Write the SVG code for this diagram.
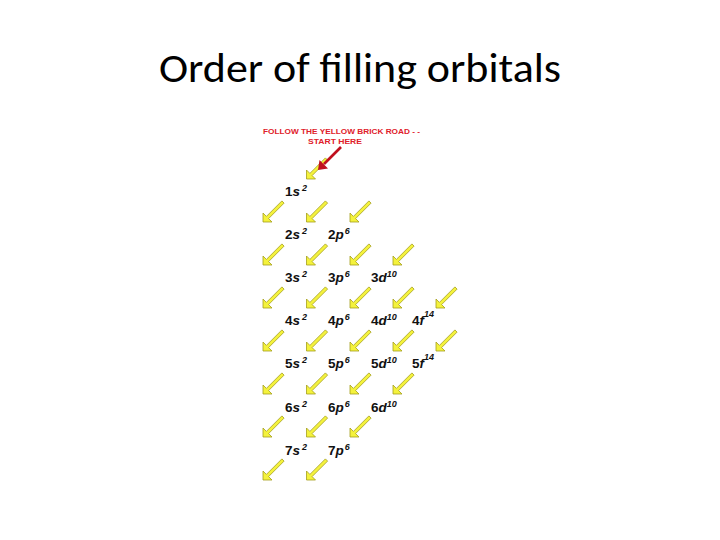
<svg xmlns="http://www.w3.org/2000/svg" xmlns:xlink="http://www.w3.org/1999/xlink" width="720" height="540" viewBox="0 0 720 540">
<style>
.title{font-family:Carlito,"Liberation Sans",sans-serif;font-size:40px;fill:#000}
.lab{font-family:"Liberation Sans",Arial,sans-serif;font-size:13.5px;font-weight:bold;fill:#111}
.it{font-style:italic}
.sup{font-size:9px;font-style:italic}
.red{font-family:"Liberation Sans",Arial,sans-serif;font-size:8px;font-weight:bold;fill:#e0202a}
.ya{fill:#f4f23c;stroke:#a59e1c;stroke-width:0.8;stroke-linejoin:miter}
</style>
<defs>
<polygon id="arr" class="ya" points="0,0 0,-9 3.4,-5.6 18.9,-21.1 21.1,-18.9 5.6,-3.4 9,0"/>
</defs>
<rect width="720" height="540" fill="#fff"/>
<text class="title" x="360" y="82" text-anchor="middle" textLength="402" lengthAdjust="spacingAndGlyphs">Order of filling orbitals</text>
<g id="caption">
<text class="red" x="263" y="134" textLength="157" lengthAdjust="spacingAndGlyphs">FOLLOW THE YELLOW BRICK ROAD  - -</text>
<text class="red" x="308" y="144" textLength="54" lengthAdjust="spacingAndGlyphs">START  HERE</text>
</g>
<g id="connectors">
<use xlink:href="#arr" x="306.5" y="179"/>
<use xlink:href="#arr" x="263" y="222"/><use xlink:href="#arr" x="306.5" y="222"/><use xlink:href="#arr" x="350" y="222"/>
<use xlink:href="#arr" x="263" y="265"/><use xlink:href="#arr" x="306.5" y="265"/><use xlink:href="#arr" x="350" y="265"/><use xlink:href="#arr" x="393" y="265"/>
<use xlink:href="#arr" x="263" y="308"/><use xlink:href="#arr" x="306.5" y="308"/><use xlink:href="#arr" x="350" y="308"/><use xlink:href="#arr" x="393" y="308"/><use xlink:href="#arr" x="436" y="308"/>
<use xlink:href="#arr" x="263" y="351"/><use xlink:href="#arr" x="306.5" y="351"/><use xlink:href="#arr" x="350" y="351"/><use xlink:href="#arr" x="393" y="351"/><use xlink:href="#arr" x="436" y="351"/>
<use xlink:href="#arr" x="263" y="394"/><use xlink:href="#arr" x="306.5" y="394"/><use xlink:href="#arr" x="350" y="394"/><use xlink:href="#arr" x="393" y="394"/>
<use xlink:href="#arr" x="263" y="437"/><use xlink:href="#arr" x="306.5" y="437"/><use xlink:href="#arr" x="350" y="437"/>
<use xlink:href="#arr" x="263" y="480"/><use xlink:href="#arr" x="306.5" y="480"/>
<g id="start-arrow">
<line x1="341" y1="147" x2="324" y2="164" stroke="#c0101e" stroke-width="2.6"/>
<polygon points="318,170 319.5,160 328,168.5" fill="#c0101e"/>
</g>
</g>
<g id="n1s"><text class="lab" x="285" y="196">1<tspan class="it">s</tspan><tspan class="sup" dx="2" dy="-5">2</tspan></text></g>
<g id="n2s"><text class="lab" x="285" y="239">2<tspan class="it">s</tspan><tspan class="sup" dx="2" dy="-5">2</tspan></text></g>
<g id="n2p"><text class="lab" x="328" y="239">2<tspan class="it">p</tspan><tspan class="sup" dx="1" dy="-5">6</tspan></text></g>
<g id="n3s"><text class="lab" x="285" y="282">3<tspan class="it">s</tspan><tspan class="sup" dx="2" dy="-5">2</tspan></text></g>
<g id="n3p"><text class="lab" x="328" y="282">3<tspan class="it">p</tspan><tspan class="sup" dx="1" dy="-5">6</tspan></text></g>
<g id="n3d"><text class="lab" x="371" y="282">3<tspan class="it">d</tspan><tspan class="sup" dx="0" dy="-5">10</tspan></text></g>
<g id="n4s"><text class="lab" x="285" y="325">4<tspan class="it">s</tspan><tspan class="sup" dx="2" dy="-5">2</tspan></text></g>
<g id="n4p"><text class="lab" x="328" y="325">4<tspan class="it">p</tspan><tspan class="sup" dx="1" dy="-5">6</tspan></text></g>
<g id="n4d"><text class="lab" x="371" y="325">4<tspan class="it">d</tspan><tspan class="sup" dx="0" dy="-5">10</tspan></text></g>
<g id="n4f"><text class="lab" x="412" y="325">4<tspan class="it">f</tspan><tspan class="sup" dx="0" dy="-8">14</tspan></text></g>
<g id="n5s"><text class="lab" x="285" y="368">5<tspan class="it">s</tspan><tspan class="sup" dx="2" dy="-5">2</tspan></text></g>
<g id="n5p"><text class="lab" x="328" y="368">5<tspan class="it">p</tspan><tspan class="sup" dx="1" dy="-5">6</tspan></text></g>
<g id="n5d"><text class="lab" x="371" y="368">5<tspan class="it">d</tspan><tspan class="sup" dx="0" dy="-5">10</tspan></text></g>
<g id="n5f"><text class="lab" x="412" y="368">5<tspan class="it">f</tspan><tspan class="sup" dx="0" dy="-8">14</tspan></text></g>
<g id="n6s"><text class="lab" x="285" y="412">6<tspan class="it">s</tspan><tspan class="sup" dx="2" dy="-5">2</tspan></text></g>
<g id="n6p"><text class="lab" x="328" y="412">6<tspan class="it">p</tspan><tspan class="sup" dx="1" dy="-5">6</tspan></text></g>
<g id="n6d"><text class="lab" x="371" y="412">6<tspan class="it">d</tspan><tspan class="sup" dx="0" dy="-5">10</tspan></text></g>
<g id="n7s"><text class="lab" x="285" y="455">7<tspan class="it">s</tspan><tspan class="sup" dx="2" dy="-5">2</tspan></text></g>
<g id="n7p"><text class="lab" x="328" y="455">7<tspan class="it">p</tspan><tspan class="sup" dx="1" dy="-5">6</tspan></text></g>
</svg>
